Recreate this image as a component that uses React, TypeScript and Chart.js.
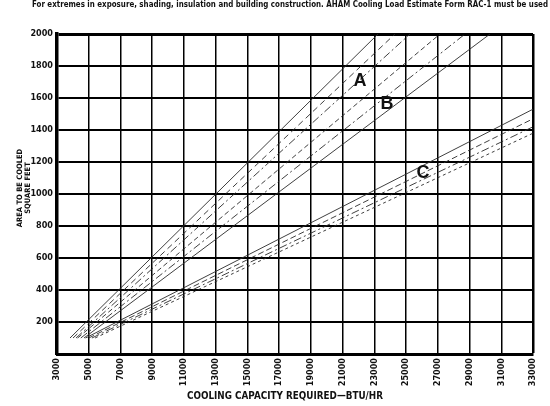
import React, { useEffect, useRef } from 'react';
import { Chart, registerables } from 'chart.js';

Chart.register(...registerables);

const TITLE =
  'For extremes in exposure, shading, insulation and building construction. AHAM Cooling Load Estimate Form RAC-1 must be used';
const Y_TITLE_1 = 'AREA TO BE COOLED';
const Y_TITLE_2 = 'SQUARE FEET';
const X_TITLE = 'COOLING CAPACITY REQUIRED\u2014BTU/HR';

const xTickValues = [3000, 5000, 7000, 9000, 11000, 13000, 15000, 17000, 19000, 21000, 23000, 25000, 27000, 29000, 31000, 33000];
const yTickValues = [0, 200, 400, 600, 800, 1000, 1200, 1400, 1600, 1800, 2000];

// Each line: [start, end] in (BTU/HR, square feet)
const lineA1 = [{ x: 3820, y: 100 }, { x: 23230, y: 2000 }];
const lineA2 = [{ x: 4010, y: 100 }, { x: 24300, y: 2000 }];
const lineA3 = [{ x: 4200, y: 100 }, { x: 25250, y: 2000 }];
const lineB1 = [{ x: 4300, y: 100 }, { x: 27140, y: 2000 }];
const lineB2 = [{ x: 4500, y: 100 }, { x: 28720, y: 2000 }];
const lineB3 = [{ x: 4700, y: 100 }, { x: 30290, y: 2000 }];
const lineC1 = [{ x: 4800, y: 100 }, { x: 33000, y: 1530 }];
const lineC2 = [{ x: 5000, y: 100 }, { x: 33000, y: 1470 }];
const lineC3 = [{ x: 5200, y: 100 }, { x: 33000, y: 1420 }];
const lineC4 = [{ x: 5400, y: 100 }, { x: 33000, y: 1380 }];

const bandLabels = ['A', 'B', 'C'];
const bandLabelX = [22100, 23800, 26070];
const bandLabelY = [1706, 1562, 1131];

const NARROW = "'Liberation Sans Narrow', 'DejaVu Sans Condensed', 'Liberation Sans', Arial, sans-serif";

const lines = [
  { data: lineA1, dash: [] as number[], w: 0.9 },
  { data: lineA2, dash: [6, 4], w: 0.9 },
  { data: lineA3, dash: [8, 3, 2, 3], w: 0.9 },
  { data: lineB1, dash: [5, 3], w: 0.9 },
  { data: lineB2, dash: [8, 3, 2, 3], w: 0.9 },
  { data: lineB3, dash: [], w: 0.9 },
  { data: lineC1, dash: [], w: 0.9 },
  { data: lineC2, dash: [6, 3], w: 0.9 },
  { data: lineC3, dash: [8, 3, 2, 3], w: 0.9 },
  { data: lineC4, dash: [3, 3], w: 0.9 },
];

const textPlugin = {
  id: 'textPlugin',
  afterDraw(chart: any) {
    const ctx = chart.ctx;
    const xs = chart.scales.x;
    const ys = chart.scales.y;
    ctx.save();
    ctx.fillStyle = '#111';
    // top note
    ctx.font = `bold 9px ${NARROW}`;
    ctx.textAlign = 'left';
    ctx.textBaseline = 'middle';
    ctx.fillText(TITLE, 32, 5, 516);
    // x title
    ctx.font = `bold 11px ${NARROW}`;
    ctx.textAlign = 'center';
    ctx.fillText(X_TITLE, 285, 396, 196);
    // y title
    ctx.save();
    ctx.translate(20, 188);
    ctx.rotate(-Math.PI / 2);
    ctx.font = `bold 7.5px ${NARROW}`;
    ctx.textAlign = 'center';
    ctx.textBaseline = 'middle';
    ctx.fillText(Y_TITLE_1, 0, 0, 80);
    ctx.fillText(Y_TITLE_2, 0, 8, 52);
    ctx.restore();
    // band labels
    ctx.font = `bold 18px 'Liberation Sans', Arial, sans-serif`;
    ctx.textAlign = 'center';
    ctx.textBaseline = 'middle';
    for (let i = 0; i < bandLabels.length; i++) {
      ctx.fillText(bandLabels[i], xs.getPixelForValue(bandLabelX[i]), ys.getPixelForValue(bandLabelY[i]));
    }
    ctx.restore();
  },
};

export default function App() {
  const ref = useRef<HTMLCanvasElement | null>(null);
  useEffect(() => {
    if (!ref.current) return;
    const chart = new Chart(ref.current, {
      type: 'line',
      data: {
        datasets: lines.map((l, i) => ({
          label: 'L' + i,
          data: l.data,
          borderColor: '#2a2a2a',
          borderWidth: l.w,
          borderDash: l.dash,
          pointRadius: 0,
          fill: false,
          tension: 0,
        })),
      },
      options: {
        responsive: false,
        animation: false,
        devicePixelRatio: 1,
        layout: { padding: { top: 34, right: 17, left: 0, bottom: 0 } },
        plugins: { legend: { display: false }, tooltip: { enabled: false }, title: { display: false } },
        scales: {
          x: {
            type: 'linear',
            min: 3000,
            max: 33000,
            afterBuildTicks: (s: any) => {
              s.ticks = xTickValues.map((v) => ({ value: v }));
            },
            afterFit: (s: any) => {
              s.height = 52;
            },
            ticks: {
              autoSkip: false,
              minRotation: 90,
              maxRotation: 90,
              padding: 4,
              color: '#111',
              font: { family: NARROW, size: 9, weight: 'bold' },
              callback: (v: any) => String(v),
            },
            grid: {
              color: '#000',
              lineWidth: (c: any) => (c.index === xTickValues.length - 1 ? 2.5 : 1.5),
              drawTicks: false,
            },
            border: { display: true, color: '#000', width: 3 },
          },
          y: {
            type: 'linear',
            min: 0,
            max: 2000,
            afterBuildTicks: (s: any) => {
              s.ticks = yTickValues.map((v) => ({ value: v }));
            },
            afterFit: (s: any) => {
              s.width = 57;
            },
            ticks: {
              autoSkip: false,
              padding: 4,
              color: '#111',
              font: { family: NARROW, size: 9, weight: 'bold' },
              callback: (v: any) => (v === 0 ? '' : String(v)),
            },
            grid: {
              color: '#000',
              lineWidth: (c: any) => (c.index === yTickValues.length - 1 ? 3 : 2),
              drawTicks: false,
            },
            border: { display: true, color: '#000', width: 3.5 },
          },
        },
      } as any,
      plugins: [textPlugin],
    });
    return () => chart.destroy();
  }, []);
  return (
    <div style={{ position: 'absolute', left: 0, top: 0, width: 550, height: 406, background: '#fff' }}>
      <canvas ref={ref} width={550} height={406} style={{ display: 'block' }} />
    </div>
  );
}
